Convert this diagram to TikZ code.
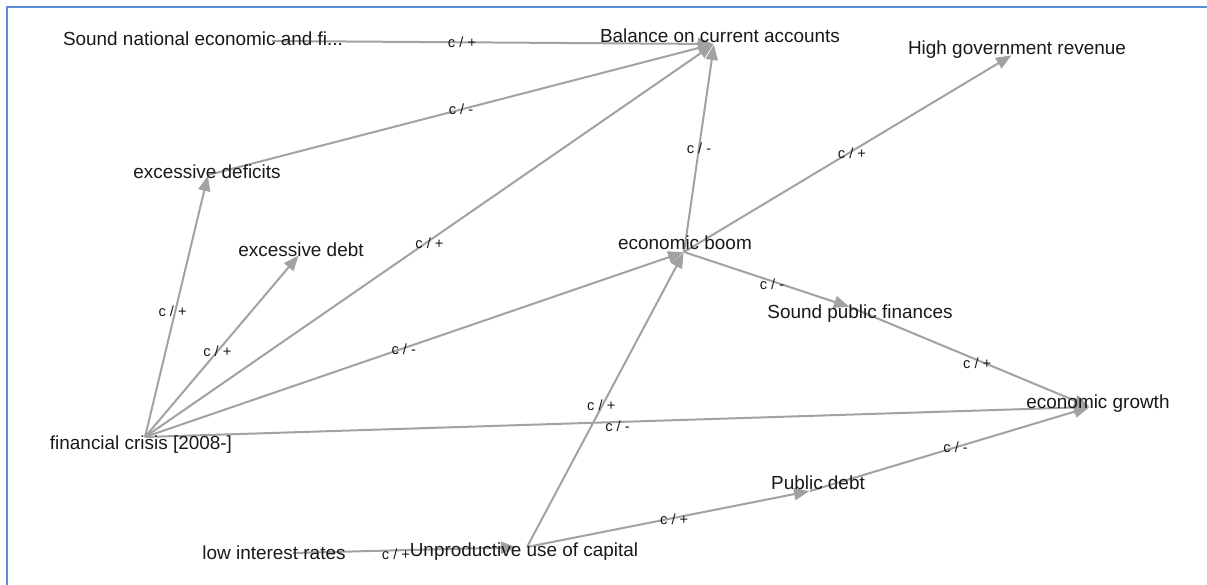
\documentclass[tikz,border=0pt]{standalone}
\usepackage{fontspec}
\setmainfont{Liberation Sans}
\usetikzlibrary{arrows.meta}
\definecolor{edgegray}{RGB}{162,162,162}
\definecolor{frameblue}{RGB}{91,142,214}
\definecolor{txt}{RGB}{25,25,25}
\begin{document}
\begin{tikzpicture}[x=0.75pt,y=-0.75pt,
  conn/.style={draw=edgegray, line width=1.5pt, -{Triangle[length=11.5pt,width=9pt]}, shorten >=0.5pt},
  lbl/.style={font=\fontsize{14.2}{16}\selectfont, text=txt, inner sep=0pt, anchor=base},
  elab/.style={font=\fontsize{11}{13}\selectfont, text=txt, inner sep=0pt, anchor=base}]
\useasboundingbox (0,0) rectangle (1207,585);
\fill[white] (0,0) rectangle (1207,585);
\draw[frameblue, line width=1.5pt] (7,585) -- (7,7) -- (1207,7);

% connection points
\coordinate (SN) at (272,41);
\coordinate (BAL) at (714,44);
\coordinate (HGR) at (1012,55);
\coordinate (DEF) at (208,175);
\coordinate (DEBT) at (299,255);
\coordinate (FC) at (145,437);
\coordinate (BOOM) at (684,252);
\coordinate (SPF) at (850,307);
\coordinate (EG) at (1090,407);
\coordinate (PD) at (810,491);
\coordinate (UNP) at (527,547);
\coordinate (LOW) at (293,553);

% connectors
\draw[conn] (SN) -- (BAL) node[elab,pos=0.43,yshift=-4pt] {c / +};
\draw[conn] (DEF) -- (BAL) node[elab,pos=0.5,yshift=-4pt] {c / -};
\draw[conn] (BOOM) -- (BAL) node[elab,pos=0.5,yshift=-4pt] {c / -};
\draw[conn] (BOOM) -- (HGR) node[elab,pos=0.5,xshift=3pt,yshift=-4pt] {c / +};
\draw[conn] (FC) -- (DEF) node[elab,pos=0.48,xshift=-2pt,yshift=-4pt] {c / +};
\draw[conn] (FC) -- (DEBT) node[elab,pos=0.47,yshift=-4pt] {c / +};
\draw[conn] (FC) -- (BAL) node[elab,pos=0.5,yshift=-6pt] {c / +};
\draw[conn] (FC) -- (BOOM) node[elab,pos=0.49,xshift=-4pt,yshift=-6pt] {c / -};
\draw[conn] (FC) -- (EG) node[elab,pos=0.5,yshift=-7pt] {c / -};
\draw[conn] (UNP) -- (BOOM) node[elab,pos=0.49,xshift=-2pt,yshift=-6pt] {c / +};
\draw[conn] (BOOM) -- (SPF) node[elab,pos=0.53,yshift=-6pt] {c / -};
\draw[conn] (SPF) -- (EG) node[elab,pos=0.53,yshift=-6pt] {c / +};
\draw[conn] (UNP) -- (PD) node[elab,pos=0.52,yshift=-5pt] {c / +};
\draw[conn] (PD) -- (EG) node[elab,pos=0.52,yshift=-4pt] {c / -};
\draw[conn, shorten >=8pt] (LOW) -- (UNP) node[elab,pos=0.44,yshift=-7pt] {c / +};

% node texts
\node[lbl] (tSN) at (203,46) {Sound national economic and fi...};
\node[lbl] (tBAL) at (720,43) {Balance on current accounts};
\node[lbl] (tHGR) at (1017,55) {High government revenue};
\node[lbl] (tDEF) at (207,178) {excessive deficits};
\node[lbl] (tDEBT) at (301,256) {excessive debt};
\node[lbl] (tBOOM) at (685,249) {economic boom};
\node[lbl] (tSPF) at (860,318) {Sound public finances};
\node[lbl] (tFC) at (141,449) {financial crisis [2008-]};
\node[lbl] (tEG) at (1098,408) {economic growth};
\node[lbl] (tPD) at (818,489) {Public debt};
\node[lbl] (tLOW) at (274,559) {low interest rates};
\node[lbl] (tUNP) at (524,556) {Unproductive use of capital};
\end{tikzpicture}
\end{document}
